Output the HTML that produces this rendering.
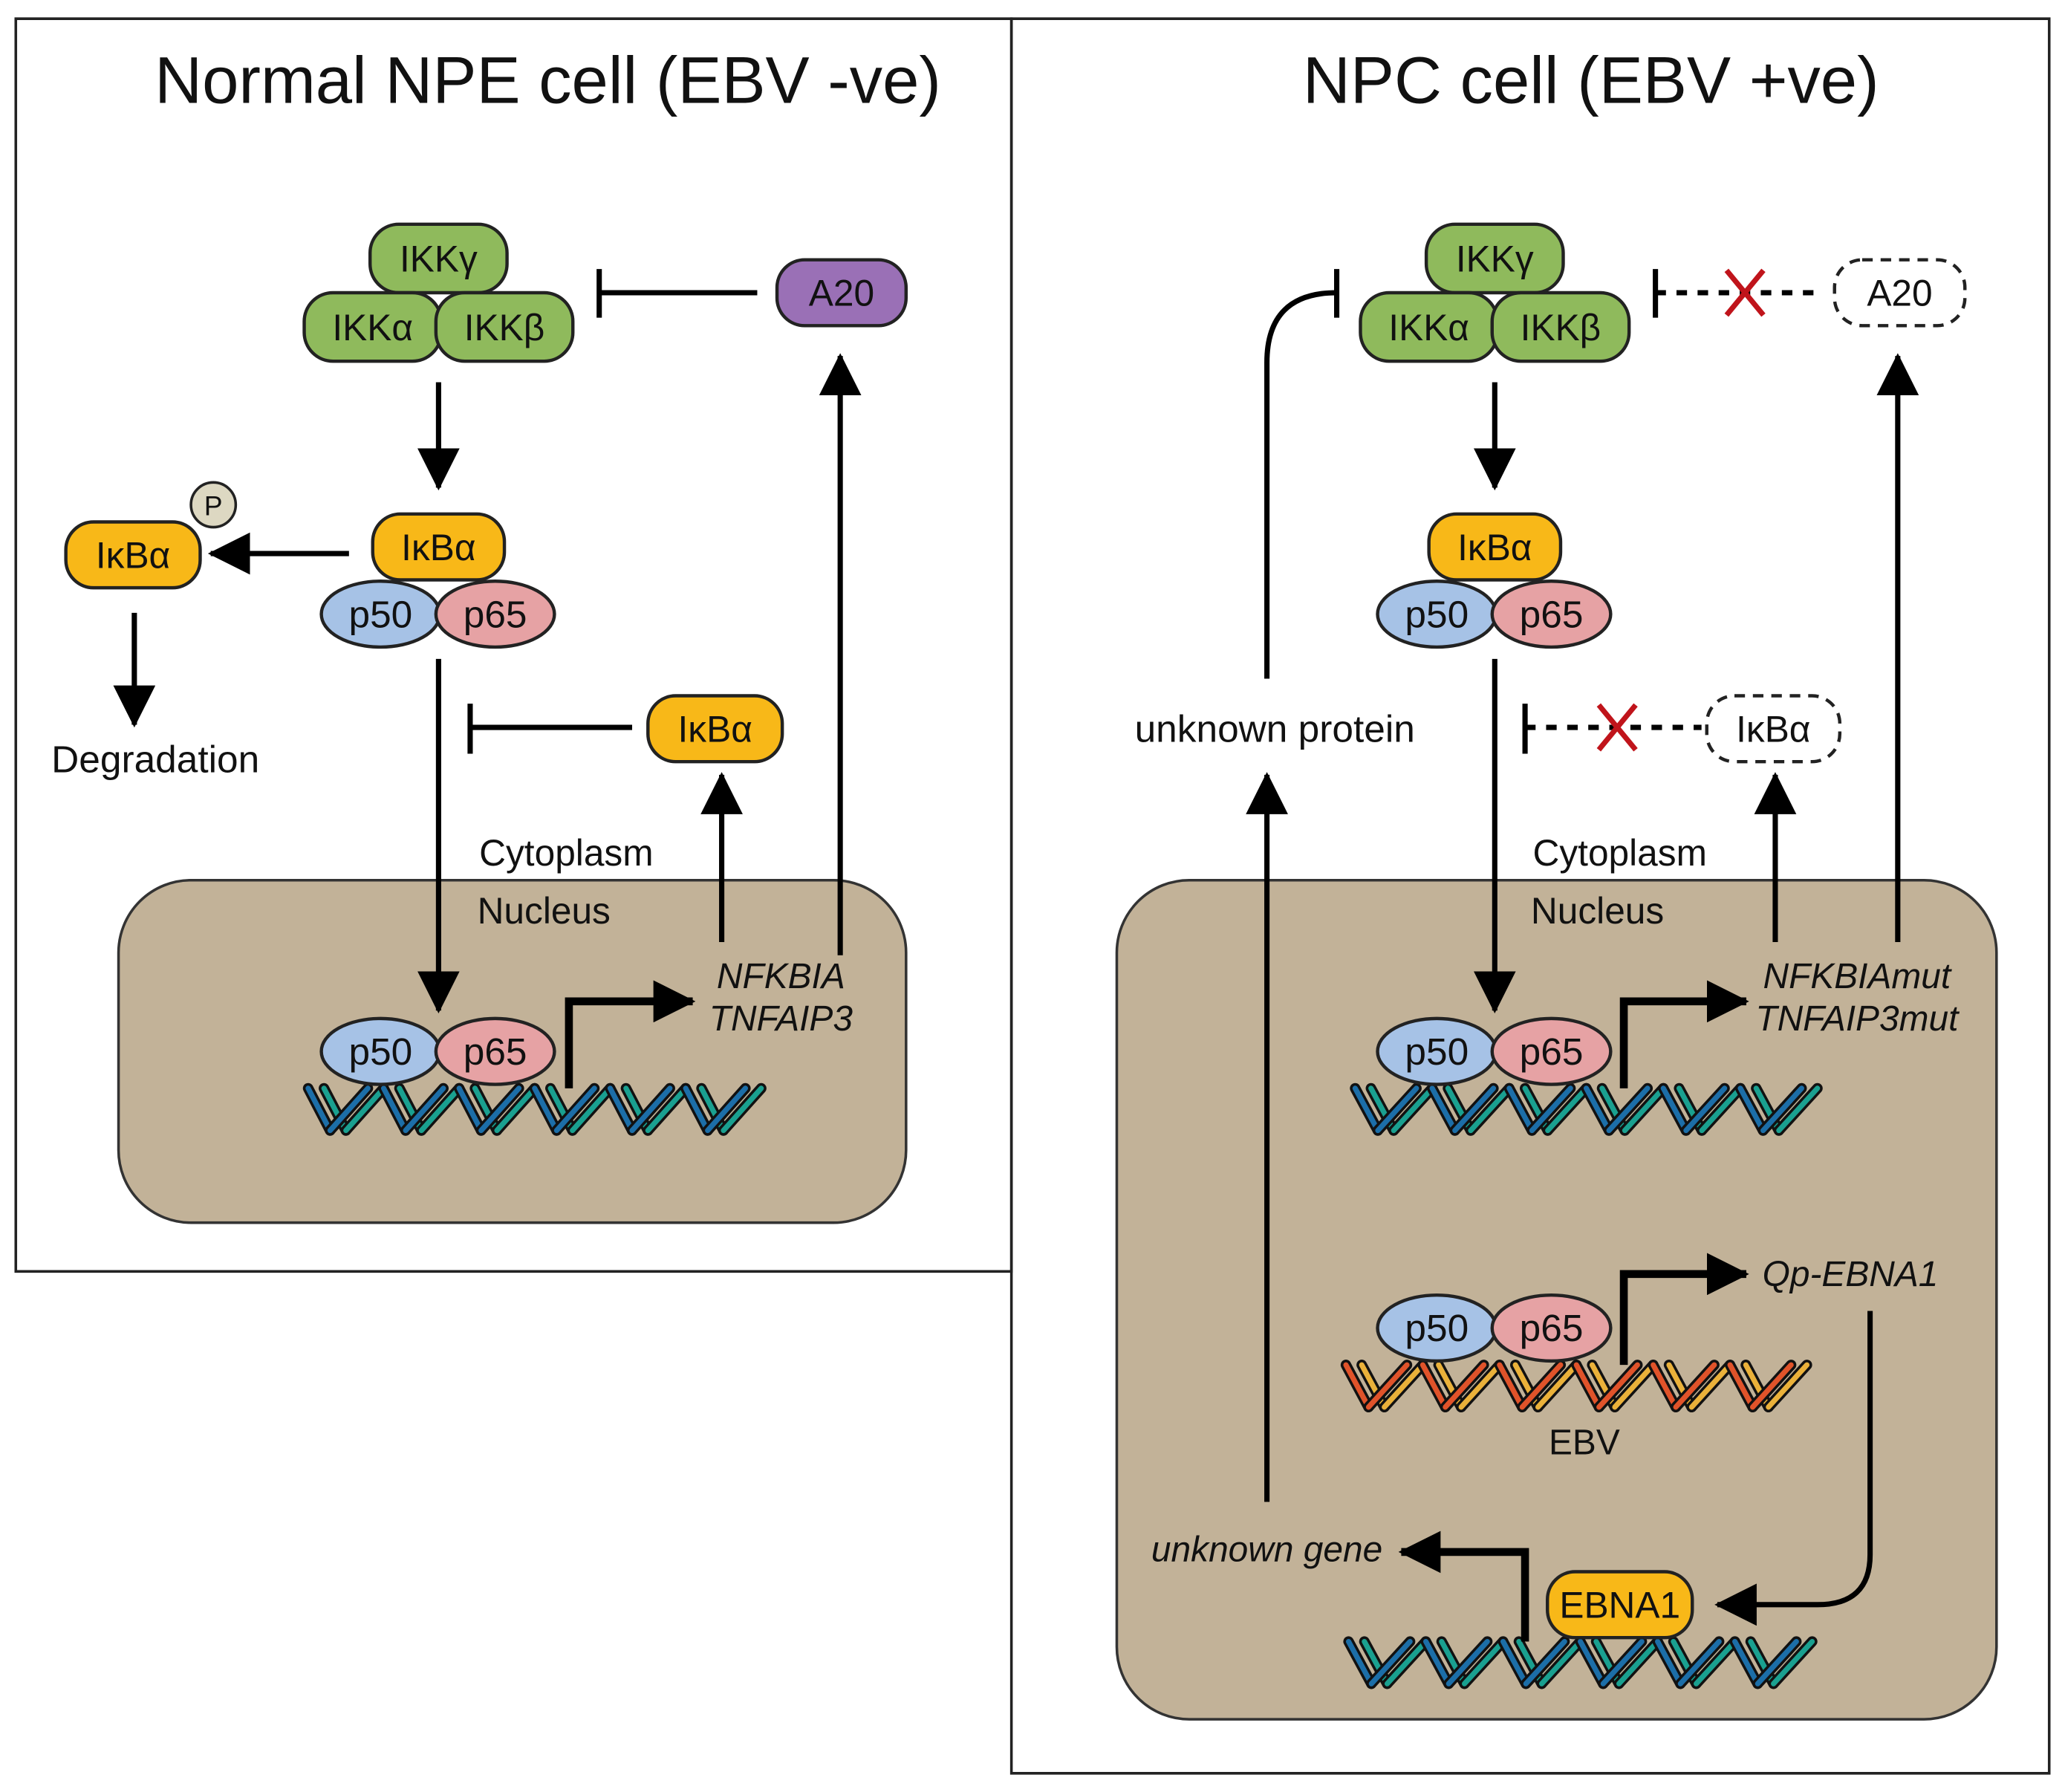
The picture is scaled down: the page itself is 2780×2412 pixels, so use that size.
<!DOCTYPE html>
<html><head><meta charset="utf-8"><style>
html,body{margin:0;padding:0;background:#fff}
svg{display:block}
text{font-family:"Liberation Sans",sans-serif;fill:#111}
</style></head><body>
<svg id="s" width="2780" height="2412" viewBox="0 0 1568 1360" xmlns="http://www.w3.org/2000/svg">
<defs>
<marker id="ah" viewBox="0 0 30 30" refX="28" refY="15" markerWidth="32" markerHeight="32" orient="auto" markerUnits="userSpaceOnUse"><path d="M0,0 L30,15 L0,30 z" fill="#000"/></marker>
</defs>
<rect width="1568" height="1360" fill="#fff"/>
<path d="M12,14 H768 V965 H12 Z" fill="none" stroke="#222" stroke-width="2"/>
<path d="M768,14 H1556 V1346 H768 Z" fill="none" stroke="#222" stroke-width="2"/>
<text x="416" y="78" font-size="50" text-anchor="middle">Normal NPE cell (EBV -ve)</text>
<text x="1208" y="78" font-size="50" text-anchor="middle">NPC cell (EBV +ve)</text>
<rect x="90" y="668" width="598" height="260" rx="55" fill="#c2b298" stroke="#333" stroke-width="2"/>
<rect x="848" y="668" width="668" height="637" rx="55" fill="#c2b298" stroke="#333" stroke-width="2"/>
<g id="dna"></g>
<g stroke="#000" stroke-width="4" fill="none">
<line x1="575" y1="222" x2="455" y2="222"/><line x1="455" y1="204" x2="455" y2="241"/>
<line x1="638" y1="725" x2="638" y2="270" marker-end="url(#ah)"/>
<line x1="333" y1="290" x2="333" y2="370" marker-end="url(#ah)"/>
<line x1="265" y1="420" x2="160" y2="420" marker-end="url(#ah)"/>
<line x1="102" y1="465" x2="102" y2="550" marker-end="url(#ah)"/>
<line x1="333" y1="500" x2="333" y2="767" marker-end="url(#ah)"/>
<line x1="480" y1="552" x2="357" y2="552"/><line x1="357" y1="534" x2="357" y2="572"/>
<line x1="548" y1="715" x2="548" y2="588" marker-end="url(#ah)"/>
<path d="M432,826 V760 H526" stroke-width="6" marker-end="url(#ah)"/>
<path d="M962,515 V275 Q962,222 1015,222"/><line x1="1015" y1="204" x2="1015" y2="241"/>
<line x1="1257" y1="204" x2="1257" y2="241"/>
<line x1="1257" y1="222" x2="1385" y2="222" stroke-dasharray="8,8"/>
<line x1="1441" y1="715" x2="1441" y2="270" marker-end="url(#ah)"/>
<line x1="1135" y1="290" x2="1135" y2="370" marker-end="url(#ah)"/>
<line x1="962" y1="1140" x2="962" y2="588" marker-end="url(#ah)"/>
<line x1="1158" y1="534" x2="1158" y2="572"/>
<line x1="1158" y1="552" x2="1292" y2="552" stroke-dasharray="8,8"/>
<line x1="1348" y1="715" x2="1348" y2="588" marker-end="url(#ah)"/>
<line x1="1135" y1="500" x2="1135" y2="767" marker-end="url(#ah)"/>
<path d="M1233,826 V760 H1326" stroke-width="6" marker-end="url(#ah)"/>
<path d="M1233,1036 V967 H1326" stroke-width="6" marker-end="url(#ah)"/>
<path d="M1420,995 V1180 Q1420,1218 1380,1218 H1304" marker-end="url(#ah)"/>
<path d="M1158,1246 V1178 H1064" stroke-width="6" marker-end="url(#ah)"/>
</g>
<g stroke="#c0141b" stroke-width="4"><line x1="1311" y1="205" x2="1339" y2="239"/><line x1="1339" y1="205" x2="1311" y2="239"/>
<line x1="1214" y1="535" x2="1242" y2="569"/><line x1="1242" y1="535" x2="1214" y2="569"/></g>
<g id="nodes"></g>
<text x="430" y="657" font-size="28" text-anchor="middle">Cytoplasm</text>
<text x="413" y="701" font-size="28" text-anchor="middle">Nucleus</text>
<text x="1230" y="657" font-size="28" text-anchor="middle">Cytoplasm</text>
<text x="1213" y="701" font-size="28" text-anchor="middle">Nucleus</text>
<text x="118" y="586" font-size="29" text-anchor="middle">Degradation</text>
<text x="593" y="750" font-size="27" font-style="italic" text-anchor="middle">NFKBIA</text>
<text x="593" y="782" font-size="27" font-style="italic" text-anchor="middle">TNFAIP3</text>
<text x="1410" y="750" font-size="27" font-style="italic" text-anchor="middle">NFKBIAmut</text>
<text x="1410" y="782" font-size="27" font-style="italic" text-anchor="middle">TNFAIP3mut</text>
<text x="1405" y="976" font-size="27" font-style="italic" text-anchor="middle">Qp-EBNA1</text>
<text x="1203" y="1104" font-size="27" text-anchor="middle">EBV</text>
<text x="962" y="1185" font-size="27" font-style="italic" text-anchor="middle">unknown gene</text>
<text x="968" y="563" font-size="29" text-anchor="middle">unknown protein</text>
</svg>
<script>
const NS="http://www.w3.org/2000/svg";
function el(p,t,a,txt){const e=document.createElementNS(NS,t);for(const k in a)e.setAttribute(k,a[k]);if(txt!==undefined)e.textContent=txt;p.appendChild(e);return e;}
const dna=document.getElementById('dna'),nodes=document.getElementById('nodes');
function helix(x0,x1,y0,y1,c1,c2){
  const P=(x1-x0)/6, h=P/2;
  for(let i=0;i<6;i++){const x=x0+i*P;
    [[0,c1],[12,c2],[h,c1],[h+12,c2]].forEach(([o,c],k)=>{
      const a = k<2 ? [x+o,y0,x+o+h-12,y1] : [x+o-12,y1,x+o+h-12,y0];
      el(dna,'line',{x1:a[0],y1:a[1],x2:a[2],y2:a[3],stroke:'#111','stroke-width':8,'stroke-linecap':'round'});
      el(dna,'line',{x1:a[0],y1:a[1],x2:a[2],y2:a[3],stroke:c,'stroke-width':4,'stroke-linecap':'round'});
    });
  }
}
helix(234,578,826,858,'#1c6ea8','#1aa090');
helix(1029,1380,826,858,'#1c6ea8','#1aa090');
helix(1022,1372,1036,1068,'#e0532a','#eab13a');
helix(1024,1376,1246,1278,'#1c6ea8','#1aa090');
function box(x,y,w,h,fill,label,dash){
  const a={x:x,y:y,width:w,height:h,rx:h*0.42,fill:fill,stroke:'#222','stroke-width':2.5};
  if(dash){a['stroke-dasharray']='8,6';}
  el(nodes,'rect',a);
  el(nodes,'text',{x:x+w/2,y:y+h/2+10,'font-size':28,'text-anchor':'middle',fill:dash?'#444':'#111'},label);
}
function ell(cx,cy,fill,label){
  el(nodes,'ellipse',{cx:cx,cy:cy,rx:45,ry:25,fill:fill,stroke:'#222','stroke-width':2.5});
  el(nodes,'text',{x:cx,y:cy+10,'font-size':29,'text-anchor':'middle'},label);
}
const G='#8fba5c',O='#f8b818',B='#a6c2e6',R='#e6a2a4',PU='#9a70b6';
function ikk(cx){box(cx-52,170,104,52,G,'IKKγ');box(cx-102,222,104,52,G,'IKKα');box(cx-2,222,104,52,G,'IKKβ');}
function nfkb(cx,cy){ell(cx-44,cy,B,'p50');ell(cx+43,cy,R,'p65');}
ikk(333);ikk(1135);
box(590,197,98,50,PU,'A20');box(1393,197,99,50,'#fff','A20',true);
box(283,390,100,50,O,'IκBα');nfkb(333,466);
box(1085,390,100,50,O,'IκBα');nfkb(1135,466);
box(50,396,102,50,O,'IκBα');
el(nodes,'circle',{cx:162,cy:383,r:17,fill:'#ddd8c2',stroke:'#222','stroke-width':2});
el(nodes,'text',{x:162,y:391,'font-size':21,'text-anchor':'middle'},'P');
box(492,528,102,50,O,'IκBα');box(1296,528,101,50,'#fff','IκBα',true);
nfkb(333,798);nfkb(1135,798);nfkb(1135,1008);
box(1175,1193,110,50,O,'EBNA1');
</script>
</body></html>
